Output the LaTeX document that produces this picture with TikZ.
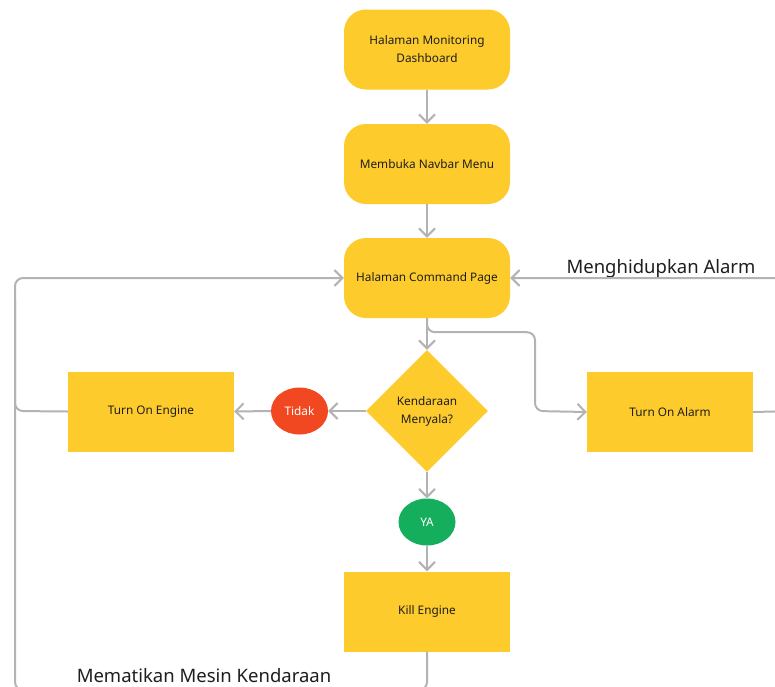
\documentclass[tikz,border=0pt]{standalone}
\usepackage{fontspec}
\setmainfont{Noto Sans}
\usetikzlibrary{shapes.geometric,arrows.meta}
\definecolor{ybox}{RGB}{253,203,43}
\definecolor{redo}{RGB}{242,72,34}
\definecolor{greeno}{RGB}{20,174,92}
\definecolor{lgray}{RGB}{179,179,179}
\definecolor{txt}{RGB}{30,30,30}
\tikzset{
  boxfont/.style={font=\fontsize{11.8}{18}\selectfont},
  rbox/.style={boxfont, fill=ybox, rounded corners=22pt, minimum width=166pt, minimum height=80pt, inner sep=0pt, align=center, text=txt},
  sbox/.style={boxfont, fill=ybox, minimum width=166pt, minimum height=80pt, inner sep=0pt, align=center, text=txt},
  decbox/.style={boxfont, diamond, fill=ybox, minimum width=122pt, minimum height=122pt, inner sep=0pt, align=center, text=txt},
  oval/.style={boxfont, ellipse, minimum width=57pt, minimum height=47pt, inner sep=0pt, text=white},
  conn/.style={draw=lgray, line width=2pt, rounded corners=8pt},
  arr/.style={conn, -{Straight Barb[length=8pt,width=16pt]}},
  lbl/.style={font=\fontsize{18.5}{22}\selectfont, text=txt, anchor=base}
}
\begin{document}
\begin{tikzpicture}[x=1pt,y=-1pt]
\useasboundingbox (0,0) rectangle (775,686);
\clip (0,0) rectangle (775,686);
\node[rbox] (dash) at (427,49.5) {Halaman Monitoring\\Dashboard};
\node[rbox] (nav) at (427,164) {Membuka Navbar Menu};
\node[rbox] (cmd) at (427,278) {Halaman Command Page};
\node[decbox] (dec) at (427,411) {Kendaraan\\Menyala?};
\node[oval, fill=redo] (tidak) at (299.5,411) {Tidak};
\node[oval, fill=greeno] (ya) at (427,522) {YA};
\node[sbox] (engine) at (151,411.5) {Turn On Engine};
\node[sbox] (alarm) at (670,412) {Turn On Alarm};
\node[sbox] (kill) at (427,611.5) {Kill Engine};
\node[lbl] (lblalarm) at (661,273) {Menghidupkan Alarm};
\node[lbl] (lblkill) at (204,682) {Mematikan Mesin Kendaraan};

\draw[arr] (dash) -- (nav);
\draw[arr] (nav) -- (cmd);
\draw[arr] (cmd) -- (dec);
\draw[arr] (cmd.south) -- ++(0,14) -| (535,411) -- (alarm.west);
\draw[arr] (dec.west) -- (tidak.east);
\draw[arr] (tidak.west) -- (engine.east);
\draw[arr] (dec.south) -- (ya.north);
\draw[arr] (ya.south) -- (kill.north);
\draw[conn] (kill.south) -- (427,690) -- (15,690) -- (15,300);
\draw[arr] (engine.west) -- (15,411) -- (15,278) -- (cmd.west);
\draw[arr] (alarm.east) -- (795,411) -- (795,278) -- (cmd.east);
\end{tikzpicture}
\end{document}
